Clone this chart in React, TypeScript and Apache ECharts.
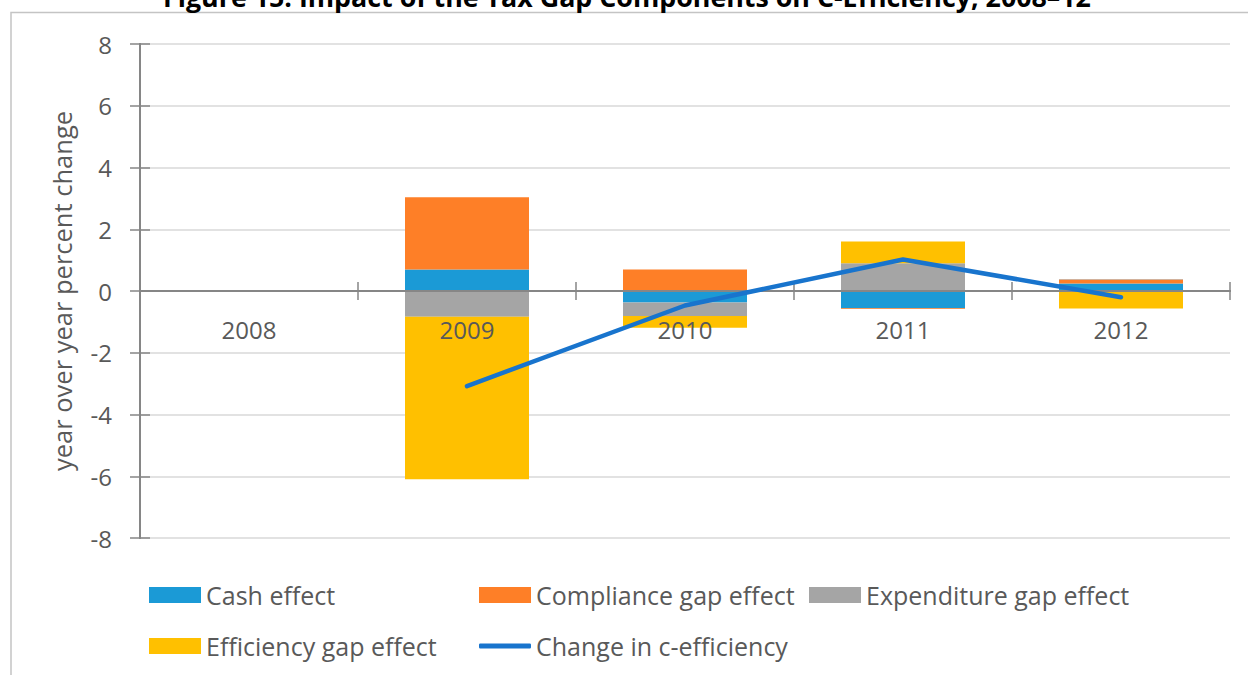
import React, { useEffect, useRef } from "react";
import * as echarts from "echarts";

const categories = ["2008", "2009", "2010", "2011", "2012"];
const cashEffect = [null, 0.7, -0.37, -0.56, 0.24];
const complianceGapEffect = [null, 2.34, 0.7, -0.02, 0.13];
const expenditureGapEffect = [null, -0.83, -0.44, 0.9, 0.02];
const efficiencyGapEffect = [null, -5.27, -0.38, 0.7, -0.57];
const changeInCEfficiency = [null, -3.08, -0.47, 1.02, -0.2];
const yTicks = { min: -8, max: 8, interval: 2 };

const TITLE = "Figure 15. Impact of the Tax Gap Components on C-Efficiency, 2008–12";
const FONT = "'Open Sans', 'Noto Sans', sans-serif";
const TXT = "#595959";
const AXIS = "#868686";

export default function App() {
  const ref = useRef<HTMLDivElement>(null);
  useEffect(() => {
    if (!ref.current) return;
    const chart = echarts.init(ref.current, undefined, { renderer: "svg" });
    const barNames = ["Cash effect", "Compliance gap effect", "Expenditure gap effect", "Efficiency gap effect"];
    const barData = [cashEffect, complianceGapEffect, expenditureGapEffect, efficiencyGapEffect];
    const barColors = ["#1B9AD6", "#FE7F27", "#A5A5A5", "#FFC000"];
    const legendPos = [
      [149, 581],
      [479, 581],
      [809, 581],
      [149, 632],
      [479, 632],
    ];
    const allNames = [...barNames, "Change in c-efficiency"];
    const legends = allNames.map((n, i) => ({
      show: true,
      left: legendPos[i][0],
      top: legendPos[i][1],
      padding: 0,
      itemWidth: 52,
      itemHeight: i === 4 ? 5 : 16,
      data: [{ name: n, icon: i === 4 ? "roundRect" : "rect" }],
      textStyle: { color: TXT, fontSize: 25, fontFamily: FONT, lineHeight: 28 },
      selectedMode: false,
    }));
    const option: any = {
      animation: false,
      backgroundColor: "#ffffff",
      textStyle: { fontFamily: FONT },
      grid: { left: 140, right: 18, top: 44, bottom: 137, containLabel: false },
      legend: legends,
      xAxis: [
        {
          type: "category",
          data: categories,
          position: "bottom",
          z: 6,
          axisLine: { show: true, onZero: true, onZeroAxisIndex: 0, lineStyle: { color: AXIS, width: 2 } },
          axisTick: { show: true, inside: false, length: 9, lineStyle: { color: AXIS, width: 1.5 } },
          axisLabel: { show: false },
          splitLine: { show: false },
        },
        {
          type: "category",
          data: categories,
          position: "bottom",
          z: 6,
          axisLine: { show: true, onZero: true, onZeroAxisIndex: 1, lineStyle: { color: AXIS, width: 2 } },
          axisTick: { show: true, inside: true, length: 9, lineStyle: { color: AXIS, width: 1.5 } },
          axisLabel: { show: false },
          splitLine: { show: false },
        },
        {
          type: "category",
          data: categories,
          position: "top",
          z: 10,
          axisLine: { show: false, onZero: false },
          axisTick: { show: false },
          axisLabel: { show: true, inside: true, color: TXT, fontSize: 24, fontFamily: FONT, margin: 273 },
          splitLine: { show: false },
        },
      ],
      yAxis: [
        {
          type: "value",
          min: yTicks.min,
          max: yTicks.max,
          interval: yTicks.interval,
          position: "left",
          name: "year over year percent change",
          nameLocation: "middle",
          nameRotate: 90,
          nameGap: 65,
          nameTextStyle: { color: TXT, fontSize: 25.5, fontFamily: FONT },
          axisLine: { show: true, onZero: false, lineStyle: { color: AXIS, width: 2 } },
          axisTick: { show: true, inside: false, length: 10, lineStyle: { color: AXIS, width: 1.5 } },
          axisLabel: { color: TXT, fontSize: 24, fontFamily: FONT, margin: 28 },
          splitLine: { show: true, lineStyle: { color: "#d9d9d9", width: 1.5 } },
        },
        {
          type: "value",
          min: yTicks.min,
          max: yTicks.max,
          interval: yTicks.interval,
          position: "left",
          axisLine: { show: true, onZero: false, lineStyle: { color: AXIS, width: 2 } },
          axisTick: { show: true, inside: true, length: 10, lineStyle: { color: AXIS, width: 1.5 } },
          axisLabel: { show: false },
          splitLine: { show: false },
        },
      ],
      series: [
        ...barNames.map((n, i) => ({
          name: n,
          type: "bar",
          stack: "total",
          barWidth: 124,
          data: barData[i],
          itemStyle: { color: barColors[i] },
          z: 1,
        })),
        {
          name: "Change in c-efficiency",
          type: "line",
          data: changeInCEfficiency,
          symbol: "none",
          showSymbol: false,
          connectNulls: false,
          itemStyle: { color: "#1874CD" },
          lineStyle: { color: "#1874CD", width: 4.5, cap: "round", join: "round" },
          z: 12,
        },
      ],
      graphic: [
        {
          type: "rect",
          shape: { x: 11, y: 12.5, width: 1400, height: 800 },
          style: { fill: "none", stroke: "#c4c4c4", lineWidth: 1.5 },
          silent: true,
          z: -1,
        },
        {
          type: "text",
          x: 627,
          y: -3.5,
          style: {
            text: TITLE,
            x: 0,
            y: 0,
            fontSize: 26.8,
            fontWeight: "bold",
            fontFamily: FONT,
            fill: "#000000",
            align: "center",
            verticalAlign: "middle",
          },
        },
      ],
    };
    chart.setOption(option);
    return () => chart.dispose();
  }, []);
  return (
    <div
      ref={ref}
      style={{ position: "absolute", left: 0, top: 0, width: 1248, height: 675, background: "#fff" }}
    />
  );
}
